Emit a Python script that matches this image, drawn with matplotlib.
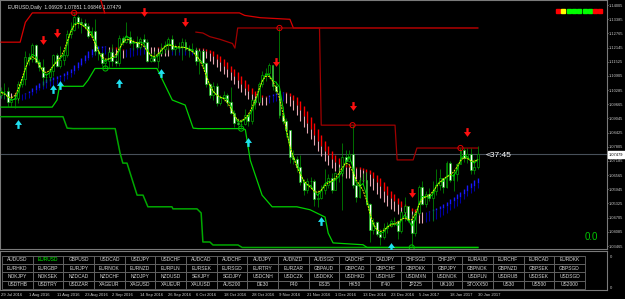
import numpy as np
import matplotlib
matplotlib.use('Agg')
from matplotlib import pyplot as plt
from matplotlib import transforms
from matplotlib.patches import Rectangle
from matplotlib.path import Path

plt.rcParams['font.family'] = ['Liberation Sans', 'DejaVu Sans']

# daily EURUSD bars, 20 Jul 2016 .. 30 Jan 2017 (bar index 0..137)
first_open = 1.1005
highs = [1.1040, 1.1060, 1.1040, 1.1000, 1.1010, 1.1070, 1.1085, 1.1200, 1.1190, 1.1235,
         1.1230, 1.1165, 1.1165, 1.1105, 1.1125, 1.1185, 1.1190, 1.1220, 1.1185, 1.1290,
         1.1325, 1.1366, 1.1355, 1.1345, 1.1340, 1.1320, 1.1305, 1.1340, 1.1210, 1.1195,
         1.1165, 1.1210, 1.1230, 1.1170, 1.1270, 1.1265, 1.1327, 1.1285, 1.1250, 1.1265,
         1.1260, 1.1275, 1.1250, 1.1190, 1.1200, 1.1195, 1.1235, 1.1245, 1.1260, 1.1270,
         1.1230, 1.1240, 1.1255, 1.1250, 1.1225, 1.1235, 1.1215, 1.1205, 1.1200, 1.1150,
         1.1060, 1.1065, 1.1060, 1.1005, 1.1025, 1.1015, 1.1040, 1.0940, 1.0905, 1.0900,
         1.0945, 1.0930, 1.0990, 1.0995, 1.1065, 1.1110, 1.1125, 1.1145, 1.1095, 1.1070,
         1.1300, 1.0960, 1.0905, 1.0805, 1.0765, 1.0740, 1.0745, 1.0640, 1.0645, 1.0650,
         1.0640, 1.0590, 1.0615, 1.0685, 1.0660, 1.0665, 1.0670, 1.0690, 1.0795, 1.0765,
         1.0765, 1.0875, 1.0620, 1.0650, 1.0665, 1.0670, 1.0535, 1.0470, 1.0455, 1.0420,
         1.0445, 1.0450, 1.0465, 1.0475, 1.0460, 1.0500, 1.0560, 1.0480, 1.0485, 1.0495,
         1.0615, 1.0630, 1.0585, 1.0600, 1.0630, 1.0685, 1.0685, 1.0635, 1.0720, 1.0720,
         1.0680, 1.0710, 1.0775, 1.0775, 1.0775, 1.0775, 1.0725, 1.07851]
lows = [1.0995, 1.0990, 1.0955, 1.0955, 1.0952, 1.0970, 1.1040, 1.1050, 1.1140, 1.1150,
        1.1145, 1.1110, 1.1045, 1.1065, 1.1070, 1.1090, 1.1130, 1.1125, 1.1140, 1.1175,
        1.1255, 1.1285, 1.1300, 1.1280, 1.1295, 1.1255, 1.1260, 1.1180, 1.1160, 1.1135,
        1.1123, 1.1125, 1.1135, 1.1135, 1.1135, 1.1225, 1.1235, 1.1225, 1.1205, 1.1210,
        1.1210, 1.1220, 1.1150, 1.1150, 1.1150, 1.1125, 1.1185, 1.1190, 1.1205, 1.1200,
        1.1180, 1.1195, 1.1160, 1.1200, 1.1175, 1.1195, 1.1140, 1.1100, 1.1135, 1.1040,
        1.0995, 1.0985, 1.0960, 1.0965, 1.0980, 1.0960, 1.0925, 1.0865, 1.0870, 1.0860,
        1.0875, 1.0870, 1.0880, 1.0945, 1.0970, 1.1040, 1.1070, 1.1080, 1.1030, 1.1015,
        1.0905, 1.0880, 1.0825, 1.0710, 1.0705, 1.0670, 1.0615, 1.0570, 1.0580, 1.0600,
        1.0520, 1.0518, 1.0550, 1.0575, 1.0600, 1.0580, 1.0590, 1.0625, 1.0505, 1.0700,
        1.0715, 1.0600, 1.0540, 1.0555, 1.0615, 1.0525, 1.0365, 1.0400, 1.0390, 1.0352,
        1.0375, 1.0405, 1.0430, 1.0435, 1.0375, 1.0405, 1.0455, 1.0450, 1.0340, 1.0390,
        1.0480, 1.0525, 1.0515, 1.0545, 1.0455, 1.0570, 1.0590, 1.0580, 1.0600, 1.0625,
        1.0585, 1.0630, 1.0705, 1.0715, 1.0710, 1.0660, 1.0660, 1.06846]
closes = [1.1025, 1.1025, 1.0975, 1.0990, 1.0995, 1.1055, 1.1075, 1.1175, 1.1165, 1.1225,
          1.1150, 1.1130, 1.1085, 1.1085, 1.1110, 1.1180, 1.1135, 1.1160, 1.1180, 1.1275,
          1.1290, 1.1350, 1.1325, 1.1320, 1.1310, 1.1265, 1.1285, 1.1200, 1.1190, 1.1145,
          1.1155, 1.1195, 1.1155, 1.1145, 1.1255, 1.1240, 1.1260, 1.1235, 1.1240, 1.1215,
          1.1250, 1.1240, 1.1155, 1.1170, 1.1155, 1.1190, 1.1210, 1.1225, 1.1250, 1.1210,
          1.1215, 1.1220, 1.1240, 1.1210, 1.1205, 1.1205, 1.1155, 1.1200, 1.1145, 1.1055,
          1.1005, 1.1045, 1.0970, 1.0995, 1.1005, 1.0975, 1.0930, 1.0885, 1.0880, 1.0880,
          1.0920, 1.0895, 1.0985, 1.0975, 1.1055, 1.1095, 1.1105, 1.1140, 1.1045, 1.1025,
          1.0920, 1.0895, 1.0855, 1.0735, 1.0725, 1.0690, 1.0625, 1.0590, 1.0630, 1.0630,
          1.0550, 1.0555, 1.0590, 1.0615, 1.0645, 1.0590, 1.0665, 1.0665, 1.0735, 1.0720,
          1.0750, 1.0615, 1.0560, 1.0635, 1.0635, 1.0530, 1.0415, 1.0450, 1.0400, 1.0385,
          1.0425, 1.0435, 1.0455, 1.0455, 1.0410, 1.0495, 1.0520, 1.0460, 1.0405, 1.0490,
          1.0605, 1.0530, 1.0575, 1.0555, 1.0585, 1.0615, 1.0645, 1.0605, 1.0710, 1.0635,
          1.0660, 1.0705, 1.0765, 1.0730, 1.0750, 1.0680, 1.06929, 1.07479]

# upper / lower channel lines (bar index, price)
red_top_idx = [0, 5.5, 7, 9, 68.5, 70, 74.5, 83, 84, 137]
red_top_px = [1.1238, 1.1238, 1.1325, 1.1366, 1.1366, 1.1355, 1.1345, 1.1338, 1.1300, 1.1300]
red_drop_idx = [28.5, 29.8]
red_drop_px = [1.1430, 1.1366]
red_mid_idx = [56, 58, 60, 63, 66.5, 67.2, 68, 91.5, 92, 113.2, 113.8, 118.4, 119.5, 137]
red_mid_px = [1.1282, 1.1278, 1.1262, 1.1250, 1.1232, 1.1212, 1.1300, 1.1300, 1.0875, 1.0875,
              1.0723, 1.0723, 1.0775, 1.0775]
grn_e_idx = [0, 14.7, 16.1, 16.8, 23.6, 25, 27, 44.8, 49.2, 52.9, 55.2, 56.6, 69.5, 70.2,
             71.6, 75, 77.9, 85, 88.8, 93.1, 94, 95.4, 104, 105.2, 137]
grn_e_px = [1.0954, 1.0954, 1.0985, 1.1045, 1.1045, 1.1072, 1.1123, 1.1123, 1.0985, 1.0963,
            1.0862, 1.0860, 1.0860, 1.0855, 1.0722, 1.0569, 1.0518, 1.0518, 1.0505, 1.0473,
            1.0403, 1.0360, 1.0352, 1.0340, 1.0340]
grn_f_idx = [0, 17.8, 19, 20.7, 32.8, 34.2, 35, 36.2, 39.1, 40.8, 42.2, 49.1, 49.4, 56.3,
             57.5, 58, 60, 60.9, 68.1, 69.3, 137]
grn_f_px = [1.0912, 1.0912, 1.0862, 1.0860, 1.0860, 1.0753, 1.0709, 1.0709, 1.0569, 1.0569,
            1.0518, 1.0518, 1.0509, 1.0509, 1.0491, 1.0364, 1.0364, 1.0351, 1.0351, 1.0340,
            1.0340]

# signal arrows and swing circles
sell_idx = [12, 16, 41, 53, 79, 101, 118, 134]
sell_px = [1.1247, 1.1277, 1.1369, 1.1325, 1.1151, 1.0958, 1.0578, 1.0845]
buy_idx = [5, 15, 17, 34, 46, 71, 92, 112]
buy_px = [1.0880, 1.1033, 1.1050, 1.1059, 1.1103, 1.0801, 1.0456, 1.0342]
swing_high_idx = [21, 80, 101, 132]
swing_low_idx = [30, 69, 118]

last_price = 1.07479
price_levels = [1.03465, 1.04085, 1.04705, 1.05325, 1.05945, 1.06565, 1.07185, 1.07805,
                1.08425, 1.09045, 1.09665, 1.10285, 1.10905, 1.11525, 1.12145, 1.12765,
                1.13385, 1.14005]
date_labels = ['29 Jul 2016', '1 Aug 2016', '11 Aug 2016', '23 Aug 2016', '2 Sep 2016',
               '14 Sep 2016', '26 Sep 2016', '6 Oct 2016', '18 Oct 2016', '28 Oct 2016',
               '9 Nov 2016', '21 Nov 2016', '1 Dec 2016', '13 Dec 2016', '23 Dec 2016',
               '5 Jan 2017', '18 Jan 2017', '30 Jan 2017']
date_idx = [0, 8, 16, 24, 32, 40, 48, 56, 64, 72, 80, 88, 96, 104, 112, 120, 129, 137]
status_colors = ['#ff0000', '#ffff00', '#00ff00', '#00ff00', '#00ff00', '#00ff00',
                 '#00ff00', '#ff0000', '#ff0000']
symbols = [
    ['AUDUSD', 'EURUSD', 'GBPUSD', 'USDCAD', 'USDJPY', 'USDCHF', 'AUDCAD', 'AUDCHF', 'AUDJPY',
     'AUDNZD', 'AUDSGD', 'CADCHF', 'CADJPY', 'CHFSGD', 'CHFJPY', 'EURAUD', 'EURCHF', 'EURCAD',
     'EURDKK'],
    ['EURHKD', 'EURGBP', 'EURJPY', 'EURNOK', 'EURNZD', 'EURPLN', 'EURSEK', 'EURSGD', 'EURTRY',
     'EURZAR', 'GBPAUD', 'GBPCAD', 'GBPCHF', 'GBPDKK', 'GBPJPY', 'GBPNOK', 'GBPNZD', 'GBPSEK',
     'GBPSGD'],
    ['NOKJPY', 'NOKSEK', 'NZDCAD', 'NZDCHF', 'NZDJPY', 'NZDUSD', 'SEKJPY', 'SGDJPY', 'USDCNH',
     'USDCZK', 'USDDKK', 'USDHKD', 'USDHUF', 'USDMXN', 'USDNOK', 'USDPLN', 'USDRUB', 'USDSEK',
     'USDSGD'],
    ['USDTHB', 'USDTRY', 'USDZAR', 'XAGEUR', 'XAGUSD', 'XAUEUR', 'XAUUSD', 'AUS200', 'DE30',
     'F40', 'ES35', 'HK50', 'IT40', 'JP225', 'UK100', 'STOXX50', 'US30', 'US500', 'US2000'],
]
active_symbol = 'EURUSD'


def ema(a, n):
    out = np.empty(len(a))
    k = 2.0 / (n + 1)
    out[0] = a[0]
    for i in range(1, len(a)):
        out[i] = out[i - 1] + k * (a[i] - out[i - 1])
    return out


def smooth(a, w):
    w = np.asarray(w, float) / sum(w)
    pad = len(w) // 2
    return np.convolve(np.pad(a, pad, mode='edge'), w, mode='valid')


H = np.array(highs)
L = np.array(lows)
C = np.array(closes)
O = np.concatenate([[first_open], C[:-1]])
x = np.arange(len(C))

W_PX, H_PX = 625, 299


def px_box(x0, y0, x1, y1):
    return [x0 / W_PX, 1 - y1 / H_PX, (x1 - x0) / W_PX, (y1 - y0) / H_PX]


fig = plt.figure(figsize=(6.25, 2.99), dpi=100)
fig.patch.set_facecolor('black')
ax = fig.add_axes(px_box(0, 0, 607, 249))
ax.set_facecolor('black')
ax.set_xlim(-0.29, 174.1)
ax.set_ylim(1.03334, 1.14224)

# heiken ashi smoothed ribbon
n = 15
mo, mh, ml, mc = ema(O, n), ema(H, n), ema(L, n), ema(C, n)
ha_o = np.empty(len(C))
ha_c = (mo + mh + ml + mc) / 4
ha_o[0] = (mo[0] + mc[0]) / 2
for i in range(1, len(C)):
    ha_o[i] = (ha_o[i - 1] + ha_c[i - 1]) / 2
ha_h = np.maximum(mh, np.maximum(ha_o, ha_c))
ha_l = np.minimum(ml, np.minimum(ha_o, ha_c))
ha_o, ha_c, ha_h, ha_l = ema(ha_o, 6), ema(ha_c, 6), ema(ha_h, 6), ema(ha_l, 6)
bear = ha_o > ha_c
ax.vlines(x[bear], ha_c[bear], ha_o[bear], color='#ff0000', lw=1.0, zorder=2)
ax.vlines(x[bear], ha_l[bear], ha_c[bear], color='#e8a8b4', lw=0.8, zorder=2)
ax.vlines(x[~bear], ha_o[~bear], ha_c[~bear], color='#1818ff', lw=1.0, zorder=2)
ax.vlines(x[~bear], ha_l[~bear], ha_o[~bear], color='#0000a0', lw=0.8, zorder=2)

# channel lines
ax.plot(red_top_idx, red_top_px, color='#d80000', lw=0.9, zorder=3)
ax.plot(red_drop_idx, red_drop_px, color='#d80000', lw=0.9, zorder=3)
ax.plot(red_mid_idx, red_mid_px, color='#a00000', lw=0.9, zorder=3)
ax.plot(grn_f_idx, grn_f_px, color='#00a800', lw=1.1, zorder=3)
ax.plot(grn_e_idx, grn_e_px, color='#00d000', lw=0.9, zorder=3)

# candles
ax.vlines(x, L, H, color='#009c00', lw=0.5, zorder=4)
bull = C >= O
body_lo = np.minimum(O, C)
body_h = np.maximum(np.abs(C - O), 0.0001)
ax.bar(x[bull], body_h[bull], bottom=body_lo[bull], width=0.55, color='black',
       edgecolor='#00b400', lw=0.45, zorder=5)
ax.bar(x[~bull], body_h[~bull], bottom=body_lo[~bull], width=0.55, color='white',
       edgecolor='#00b400', lw=0.45, zorder=5)

# smoothed price lines
tp = (H + L + C) / 3
ax.plot(x, smooth((H + L) / 2, [1, 2, 1]), color='#00d800', lw=0.7, zorder=6)
ax.plot(x, smooth(tp, [1, 2, 3, 2, 1]), color='#f0f000', lw=0.7, ls=(0, (2, 1)), zorder=7)

# arrows and circles
down = Path([(-0.4, 0.05), (-0.13, 0.05), (-0.13, 0.5), (0.13, 0.5), (0.13, 0.05),
             (0.4, 0.05), (0, -0.5), (-0.4, 0.05)])
up = Path([(px, -py) for px, py in down.vertices])
ax.scatter(sell_idx, sell_px, marker=down, s=40, color='#ff1010', lw=0, zorder=8)
ax.scatter(buy_idx, buy_px, marker=up, s=40, color='#20e0f0', lw=0, zorder=8)
ax.scatter(swing_high_idx, H[swing_high_idx], s=14, facecolors='none', edgecolors='#e00000',
           lw=0.7, zorder=8)
ax.scatter(swing_low_idx, L[swing_low_idx], s=14, facecolors='none', edgecolors='#00c000',
           lw=0.7, zorder=8)

# last price line and countdown
ax.axhline(last_price, color='#48505a', lw=0.8, zorder=1)
ax.text(139.3, last_price - 0.0005, '<37:45', color='white', fontsize=6, va='center',
        ha='left', zorder=9)
ax.text(0.985, 0.028, '0.0', transform=ax.transAxes, color='#00c800', fontsize=7,
        ha='right', va='bottom')
ax.text(0.014, 0.978, 'EURUSD,Daily  1.06929 1.07851 1.06846 1.07479', transform=ax.transAxes,
        color='#e0e0e0', fontsize=3.6, ha='left', va='top')

# price scale
ax.yaxis.tick_right()
ax.set_yticks(price_levels)
ax.set_yticklabels(['%.5f' % v for v in price_levels])
ax.tick_params(axis='y', colors='#c8c8c8', labelsize=2.9, length=1.0, pad=0.4, width=0.5)
ax.set_xticks([])
for side in ax.spines.values():
    side.set_color('#7a7a7a')
    side.set_linewidth(0.8)

fig.patches.append(Rectangle((608 / W_PX, 1 - 158 / H_PX), 17 / W_PX, 7 / H_PX,
                             transform=fig.transFigure, color='white', zorder=10))
fig.text(609 / W_PX, 1 - 154.5 / H_PX, '%.5f' % last_price, color='black', fontsize=2.9,
         va='center', ha='left', zorder=11)

# status squares
for k, col in enumerate(status_colors):
    fig.patches.append(Rectangle(((556 + 5.3 * k) / W_PX, 1 - 13 / H_PX), 4 / W_PX, 4 / H_PX,
                                 transform=fig.transFigure, color=col, zorder=10))

# symbol buttons sub-window
sub = fig.add_axes(px_box(0, 251, 607, 290))
sub.set_facecolor('black')
sub.set_xlim(0, 607)
sub.set_ylim(290, 251)
sub.set_xticks([])
sub.set_yticks([])
for side in sub.spines.values():
    side.set_color('#7a7a7a')
    side.set_linewidth(0.8)
col_w, row_h = 30.68, 8.4
for r, row in enumerate(symbols):
    for c, name in enumerate(row):
        x0 = 2 + c * col_w
        y0 = 255.5 + r * row_h
        sub.add_patch(Rectangle((x0, y0), col_w, row_h, facecolor='black',
                                edgecolor='#6a6a6a', lw=0.6))
        sub.text(x0 + col_w / 2, y0 + row_h / 2, name, fontsize=3.5, ha='center', va='center',
                 color='#00ff00' if name == active_symbol else '#d8d8d8')
fig.text(610 / W_PX, 1 - 257 / H_PX, '0', color='#c8c8c8', fontsize=3.0, va='center')
fig.text(610 / W_PX, 1 - 288 / H_PX, '0', color='#c8c8c8', fontsize=3.0, va='center')

# date scale
blend = transforms.blended_transform_factory(ax.transData, fig.transFigure)
for lbl, i in zip(date_labels, date_idx):
    fig.text(i, 1 - 295 / H_PX, lbl, transform=blend, color='#d0d0d0', fontsize=3.0,
             ha='left', va='center')

fig.savefig('out.png', dpi=100, facecolor='black')
